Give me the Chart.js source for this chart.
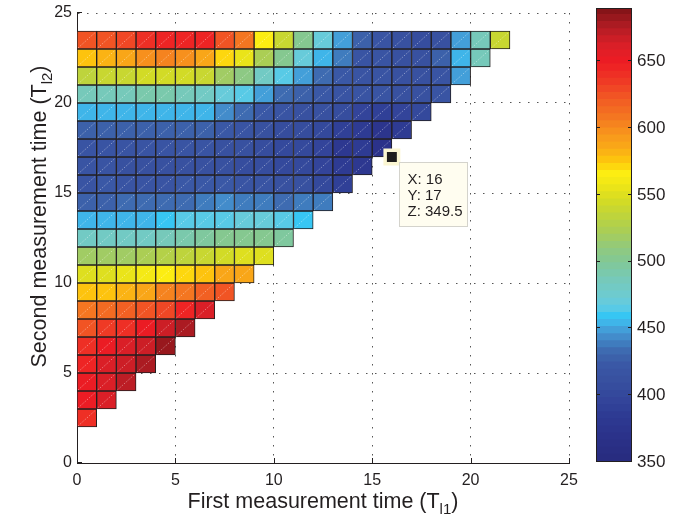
<!DOCTYPE html>
<html><head><meta charset="utf-8">
<script src="https://cdn.jsdelivr.net/npm/chart.js@4"></script>
<style>
html,body{margin:0;padding:0;background:#fff;}
#wrap{position:relative;width:695px;height:524px;overflow:hidden;}
#main{position:absolute;left:0;top:0;}
#cbar{position:absolute;left:580px;top:0;}
</style></head><body>
<div id="wrap"><canvas id="main" width="695" height="524"></canvas><canvas id="cbar" width="115" height="524"></canvas></div>
<script>
// ---------- data ----------
const firstTime  = [0,1,2,3,4,5,6,7,8,9,10,11,12,13,14,15,16,17,18,19,20,21]; // T_l1 (cell left edge)
const secondTime = [2,3,4,5,6,7,8,9,10,11,12,13,14,15,16,17,18,19,20,21,22,23]; // T_l2 (cell bottom edge)
const z02 = [640];
const z03 = [650, 660];
const z04 = [648, 660, 669];
const z05 = [646, 660, 667, 679];
const z06 = [642, 650, 660, 667, 682];
const z07 = [625, 634, 641, 650, 665, 678];
const z08 = [610, 613, 618, 624, 631, 647, 663];
const z09 = [575, 576, 582, 589, 600, 610, 620, 626];
const z10 = [549, 551, 556, 560, 565, 572, 578, 585, 588];
const z11 = [515, 516, 518, 521, 526, 533, 541, 545, 547, 547];
const z12 = [478, 481, 481, 482, 486, 492, 496, 499, 500, 500, 498];
const z13 = [455, 455, 455, 456, 458, 462, 464, 466, 468, 468, 462, 458];
const z14 = [428, 429, 430, 432, 433, 434, 440, 442, 440, 435, 431, 436, 438];
const z15 = [418, 420, 418, 418, 418, 421, 421, 420, 418, 415, 412, 412, 402, 392];
const z16 = [414, 414, 412, 412, 413, 413, 411, 409, 408, 404, 401, 402, 395, 382, 378];
const z17 = [418, 417, 415, 415, 417, 418, 415, 412, 410, 405, 402, 402, 394, 380, 383, 367];
const z18 = [428, 429, 427, 426, 427, 428, 428, 422, 415, 412, 408, 408, 400, 390, 382, 372, 382];
const z19 = [451, 452, 455, 456, 456, 455, 451, 443, 433, 422, 415, 412, 410, 407, 395, 390, 393, 400];
const z20 = [486, 486, 488, 491, 491, 488, 480, 470, 462, 450, 433, 425, 420, 418, 416, 414, 412, 412, 414];
const z21 = [533, 537, 540, 542, 546, 542, 538, 518, 505, 478, 462, 446, 432, 420, 417, 414, 412, 412, 415, 446];
const z22 = [575, 581, 587, 598, 600, 598, 588, 571, 553, 522, 500, 470, 452, 436, 418, 414, 412, 412, 425, 452, 485];
const z23 = [622, 625, 628, 640, 643, 646, 643, 626, 605, 566, 540, 500, 470, 446, 428, 415, 412, 408, 410, 447, 485, 540];
const rowValues = [z02,z03,z04,z05,z06,z07,z08,z09,z10,z11,z12,z13,z14,z15,z16,z17,z18,z19,z20,z21,z22,z23];

const xTicks = [0,5,10,15,20,25];
const yTicks = [0,5,10,15,20,25];
const cbTicks = [350,400,450,500,550,600,650];
const cbMin = 350, cbMax = 690;
const tipX = 16, tipY = 17, tipZ = 349.5;

// ---------- style ----------
const FONT = "'Liberation Sans', Arial, Helvetica, sans-serif";
const INK = '#231f20';
const nLevels = 64;
const cmapStops = [
  [350,'#282b7e'],[371,'#2b338b'],[384,'#2e3b93'],[396,'#33459b'],[409,'#37509f'],
  [421,'#3a57a5'],[431,'#3d67ae'],[439,'#4080c1'],[446,'#4595d2'],[454,'#3fb7ea'],
  [459,'#37c6f3'],[466,'#63cbe1'],[476,'#6fcbcc'],[486,'#76c9b9'],[499,'#82c896'],
  [509,'#90c97f'],[521,'#a8cd58'],[534,'#bfd43a'],[546,'#d6dc22'],[556,'#eee518'],
  [565,'#fcee12'],[574,'#fec80c'],[584,'#faab17'],[596,'#f7931d'],[608,'#f47521'],
  [621,'#f15a24'],[634,'#ef3a25'],[649,'#ed1c24'],[661,'#da1f27'],[674,'#b51d24'],
  [686,'#8a151a'],[690,'#7d1315']
];
function hx(h){return [parseInt(h.slice(1,3),16),parseInt(h.slice(3,5),16),parseInt(h.slice(5,7),16)];}
function interpColor(v){
  if (v <= cmapStops[0][0]) return cmapStops[0][1];
  for (let i=1;i<cmapStops.length;i++){
    if (v <= cmapStops[i][0]){
      const [v0,c0]=cmapStops[i-1],[v1,c1]=cmapStops[i];
      const t=(v-v0)/(v1-v0), a=hx(c0), b=hx(c1);
      return 'rgb('+a.map((q,k)=>Math.round(q+(b[k]-q)*t)).join(',')+')';
    }
  }
  return cmapStops[cmapStops.length-1][1];
}
const levelStep = (cbMax-cbMin)/nLevels;
function levelColor(i){ return interpColor(cbMin+(i+0.5)*levelStep); }
function colorFor(v){
  let i=Math.floor((v-cbMin)/levelStep); i=Math.max(0,Math.min(nLevels-1,i));
  return levelColor(i);
}

// ---------- build cells from the data ----------
const cells = [];
secondTime.forEach((t2,k)=>{
  rowValues[k].forEach((v,c)=>{ cells.push({x:firstTime[c]+0.5, y:[t2,t2+1], v}); });
});

function drawParts(ctx, parts, cx, baseY){
  let total=0;
  parts.forEach(p=>{ctx.font=p.size+'px '+FONT; p.w=ctx.measureText(p.t).width; total+=p.w;});
  let x=cx-total/2;
  parts.forEach(p=>{ctx.font=p.size+'px '+FONT; ctx.fillText(p.t,x,baseY+(p.dy||0)); x+=p.w;});
}

const decor = {
  id:'decor',
  beforeDatasetsDraw(chart){
    const {ctx, chartArea:a, scales:{x,y}} = chart;
    ctx.save(); ctx.strokeStyle=INK; ctx.lineWidth=1; ctx.beginPath();
    xTicks.forEach(v=>{const p=Math.round(x.getPixelForValue(v))+0.5; ctx.moveTo(p,a.bottom); ctx.lineTo(p,a.bottom-5);});
    yTicks.forEach(v=>{const p=Math.round(y.getPixelForValue(v))-0.5; ctx.moveTo(a.left,p); ctx.lineTo(a.left+5,p);});
    ctx.stroke(); ctx.restore();
  },
  afterDatasetDraw(chart,args){
    if (args.meta.type!=='bar') return;
    const ctx=chart.ctx;
    ctx.save(); ctx.beginPath();
    args.meta.data.forEach(el=>{
      const {x,y,base,width}=el.getProps(['x','y','base','width'],true);
      const l=x-width/2, r=x+width/2, t=Math.min(y,base), b=Math.max(y,base);
      ctx.moveTo(l+1,b-1); ctx.lineTo(r-1,t+1);
    });
    ctx.setLineDash([1.5,1.5]); ctx.strokeStyle='rgba(255,255,255,0.5)'; ctx.lineWidth=0.8; ctx.stroke();
    ctx.restore();
  },
  afterDraw(chart){
    const {ctx, chartArea:a} = chart;
    ctx.save(); ctx.fillStyle=INK; ctx.textBaseline='alphabetic'; ctx.textAlign='left';
    // x title
    drawParts(ctx,[{t:'First measurement time (T',size:21.5},{t:'l1',size:15,dy:6},{t:')',size:21.5}],(a.left+a.right)/2,508);
    // y title
    ctx.save(); ctx.translate(46,216.5); ctx.rotate(-Math.PI/2);
    drawParts(ctx,[{t:'Second measurement time (T',size:21.5},{t:'l2',size:15,dy:6},{t:')',size:21.5}],0,0);
    ctx.restore();
    // data tip
    const meta = chart.getDatasetMeta(1);
    const pt = meta.data[0];
    const bx=Math.round(pt.x)+7.5, by=Math.round(pt.y)+5.5, bw=68, bh=64;
    ctx.fillStyle='#fffdf0'; ctx.fillRect(bx,by,bw,bh);
    ctx.strokeStyle='#d4d3cc'; ctx.lineWidth=1; ctx.strokeRect(bx,by,bw,bh);
    ctx.fillStyle=INK; ctx.font='15px '+FONT;
    ctx.fillText('X: '+tipX,bx+8,by+21);
    ctx.fillText('Y: '+tipY,bx+8,by+37.5);
    ctx.fillText('Z: '+tipZ,bx+8,by+53.5);
    ctx.restore();
  }
};

new Chart(document.getElementById('main'), {
  type:'bar',
  data:{ datasets:[
    { type:'bar', order:1, data:cells,
      backgroundColor: c=> c.raw ? colorFor(c.raw.v) : '#000',
      borderColor:INK, borderWidth:1, borderSkipped:false,
      barPercentage:1, categoryPercentage:1, grouped:false },
    { type:'scatter', order:0, data:[{x:tipX,y:tipY}], pointStyle:'rect',
      pointRadius:9.5, backgroundColor:'#1f1d1d', borderColor:'#fbf6d2', borderWidth:3.5 }
  ]},
  options:{
    responsive:false, animation:false, events:[], devicePixelRatio:1,
    layout:{padding:{top:8,right:126,left:0,bottom:0}},
    plugins:{legend:{display:false}, tooltip:{enabled:false}},
    scales:{
      x:{ type:'linear', min:0, max:25, offset:false,
          grid:{color:'#555', lineWidth:1, drawTicks:false, offset:false},
          border:{display:true, color:INK, width:1, dash:[1.5,7.5]},
          ticks:{padding:8, color:INK, font:{family:FONT,size:16}, maxRotation:0},
          afterBuildTicks:s=>{s.ticks=xTicks.map(v=>({value:v}));},
          afterFit:s=>{s.height=61; s.paddingLeft=0; s.paddingRight=0;} },
      y:{ type:'linear', min:0, max:25,
          grid:{color:'#555', lineWidth:1, drawTicks:false},
          border:{display:true, color:INK, width:1, dash:[1.5,7.5]},
          ticks:{padding:5, color:INK, font:{family:FONT,size:16}},
          afterBuildTicks:s=>{s.ticks=yTicks.map(v=>({value:v}));},
          afterFit:s=>{s.width=77; s.paddingTop=0; s.paddingBottom=0;} }
    }
  },
  plugins:[decor]
});

// ---------- colorbar ----------
const bands = Array.from({length:nLevels},(_,i)=>({lo:cbMin+i*levelStep, hi:cbMin+(i+1)*levelStep+(i<nLevels-1?0.6:0), color:levelColor(i)}));
const cbFrame = {
  id:'cbFrame',
  afterDraw(chart){
    const {ctx, chartArea:a, scales:{y}} = chart;
    ctx.save(); ctx.strokeStyle=INK; ctx.lineWidth=1;
    ctx.strokeRect(Math.round(a.left)+0.5, Math.round(a.top)+0.5, Math.round(a.right-a.left)-1, Math.round(a.bottom-a.top)-1);
    ctx.beginPath();
    cbTicks.forEach(v=>{const p=Math.round(y.getPixelForValue(v))-0.5;
      ctx.moveTo(a.left,p); ctx.lineTo(a.left+4,p); ctx.moveTo(a.right,p); ctx.lineTo(a.right-4,p);});
    ctx.stroke(); ctx.restore();
  }
};
new Chart(document.getElementById('cbar'), {
  type:'bar',
  data:{ labels:[''], datasets: bands.map(b=>({data:[[b.lo,b.hi]], backgroundColor:b.color, borderWidth:0,
        barPercentage:1, categoryPercentage:1, grouped:false})) },
  options:{
    responsive:false, animation:false, events:[], devicePixelRatio:1,
    layout:{padding:{left:16,top:8,bottom:62,right:0}},
    plugins:{legend:{display:false}, tooltip:{enabled:false}},
    scales:{
      x:{display:false},
      y:{ position:'right', min:cbMin, max:cbMax,
          grid:{display:false, drawTicks:false}, border:{display:false},
          ticks:{padding:5, color:INK, font:{family:FONT,size:17}},
          afterBuildTicks:s=>{s.ticks=cbTicks.map(v=>({value:v}));},
          afterFit:s=>{s.width=63; s.paddingTop=0; s.paddingBottom=0;} }
    }
  },
  plugins:[cbFrame]
});
</script>
</body></html>
